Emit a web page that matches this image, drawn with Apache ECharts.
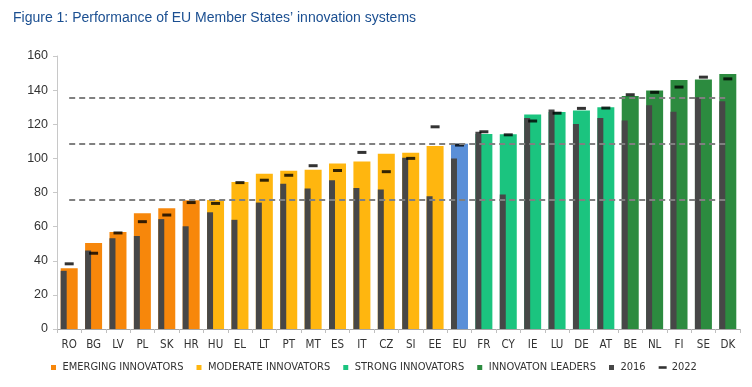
<!DOCTYPE html>
<html>
<head>
<meta charset="utf-8">
<script src="https://cdn.jsdelivr.net/npm/echarts@6/dist/echarts.min.js"></script>
<style>
html,body{margin:0;padding:0;background:#fff;}
#chart{width:752px;height:387px;}
</style>
</head>
<body>
<div id="chart"></div>
<script>
const categories = ['RO','BG','LV','PL','SK','HR','HU','EL','LT','PT','MT','ES','IT','CZ','SI','EE','EU','FR','CY','IE','LU','DE','AT','BE','NL','FI','SE','DK'];
const values2023 = [35.6,50.4,56.8,67.9,70.8,75.4,75.6,86.2,91.0,92.8,93.4,97.0,98.2,102.7,103.3,107.2,108.5,114.3,114.2,125.7,127.2,128.0,130.0,136.5,139.8,146.0,146.2,149.4];
const values2016 = [34.1,46.0,53.2,54.5,64.4,60.2,68.4,64.0,74.1,85.2,82.3,87.2,82.7,81.7,100.3,77.8,100.0,115.6,78.8,123.6,128.7,120.1,123.7,122.2,131.1,127.3,135.8,133.5];
const values2022 = [38.2,44.4,56.3,62.9,66.8,74.1,73.6,85.8,87.2,90.1,95.7,92.9,103.5,92.2,100.0,118.5,107.8,115.6,113.8,121.9,126.5,129.3,129.5,137.3,138.7,141.8,147.6,146.6];
const groupOf = ['E','E','E','E','E','E','M','M','M','M','M','M','M','M','M','M','EU','S','S','S','S','S','S','L','L','L','L','L'];
const thresholds = [135.6, 108.5, 75.95];
const yTicks = {min: 0, max: 160, interval: 20};

const groups = [
  {key:'E', name:'EMERGING INNOVATORS', color:'#F7870B'},
  {key:'M', name:'MODERATE INNOVATORS', color:'#FFB60F'},
  {key:'S', name:'STRONG INNOVATORS', color:'#1BC47F'},
  {key:'L', name:'INNOVATON LEADERS', color:'#2C8B3F'},
  {key:'EU', name:'EU', color:'#5A8FD8'}
];

const sq = 'path://M0,0h5v5h-5z';
const dash = 'path://M0,0h8v2.6h-8z';
const condensed = "'DejaVu Sans Condensed', Roboto, sans-serif";

const series = [];
series.push({
  name: '2016', type: 'bar', barWidth: 6, barGap: '-100%', z: 3,
  itemStyle: {color: '#474747'},
  data: values2016
});
groups.forEach(g => {
  series.push({
    name: g.name, type: 'bar', stack: 'total', barWidth: 17, barGap: '-100%', z: 2,
    itemStyle: {color: g.color},
    data: values2023.map((v, i) => groupOf[i] === g.key ? v : null)
  });
});
series.push({
  name: '2022', type: 'scatter', symbol: 'rect', symbolSize: [9, 3], z: 5,
  itemStyle: {color: '#000'},
  data: values2022,
  markLine: {
    silent: true, symbol: 'none', z: 6,
    label: {show: false},
    lineStyle: {type: [6, 4], color: '#808080', width: 2},
    data: thresholds.map(t => [{coord: [categories[0], t]}, {coord: [categories[categories.length - 1], t]}])
  }
});

const chart = echarts.init(document.getElementById('chart'), null, {renderer: 'canvas'});
chart.setOption({
  animation: false,
  backgroundColor: '#fff',
  title: {
    text: 'Figure 1: Performance of EU Member States\u2019 innovation systems',
    left: 8, top: 6,
    textStyle: {fontFamily: 'Liberation Sans', fontSize: 14, fontWeight: 'normal', color: '#1B4F91'}
  },
  legend: {
    left: 46, top: 357,
    itemWidth: 8, itemHeight: 5, itemGap: 13,
    selectedMode: false,
    textStyle: {fontFamily: condensed, fontSize: 11, color: '#333'},
    data: [
      {name: 'EMERGING INNOVATORS', icon: sq},
      {name: 'MODERATE INNOVATORS', icon: sq},
      {name: 'STRONG INNOVATORS', icon: sq},
      {name: 'INNOVATON LEADERS', icon: sq},
      {name: '2016', icon: sq},
      {name: '2022', icon: dash}
    ]
  },
  grid: {left: 57, right: 12, top: 56, bottom: 58, containLabel: false},
  xAxis: {
    type: 'category', data: categories,
    axisLine: {lineStyle: {color: '#a6a6a6', width: 1}},
    axisTick: {show: true, alignWithLabel: false, length: 4, lineStyle: {color: '#bfbfbf'}},
    axisLabel: {fontFamily: condensed, fontSize: 11.5, color: '#333', margin: 10, interval: 0}
  },
  yAxis: {
    type: 'value', min: yTicks.min, max: yTicks.max, interval: yTicks.interval,
    axisLine: {show: true, lineStyle: {color: '#c8c8c8'}},
    axisTick: {show: true, length: 4, lineStyle: {color: '#c8c8c8'}},
    splitLine: {show: false},
    axisLabel: {fontFamily: 'Liberation Sans', fontSize: 12.5, color: '#333', margin: 9}
  },
  series: series
});
</script>
</body>
</html>
